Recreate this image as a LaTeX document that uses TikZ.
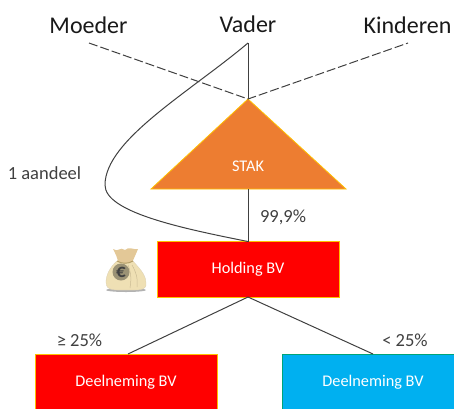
\documentclass[tikz,border=0pt]{standalone}
\usepackage{fontspec}
\setmainfont{Carlito}
\definecolor{orangefill}{HTML}{ED7D31}
\definecolor{edgeor}{HTML}{FFC000}
\definecolor{bluefill}{HTML}{00B0F0}
\definecolor{bag}{HTML}{EFE0B4}
\definecolor{bagdark}{HTML}{B59F68}
\definecolor{linegrey}{HTML}{404040}
\tikzset{
 x=1pt,y=-1pt,
 box/.style={draw=edgeor,line width=0.8pt,fill=red,text=white,font=\fontsize{16.3}{18}\selectfont,minimum width=182pt,minimum height=55.5pt,inner sep=0pt},
 head/.style={font=\fontsize{24}{26}\selectfont,text=black!90,inner sep=0pt},
 lab/.style={font=\fontsize{18.5}{20}\selectfont,text=linegrey,inner sep=0pt},
 conn/.style={draw=linegrey,line width=1pt},
 dashline/.style={draw=linegrey,line width=1pt,dash pattern=on 9pt off 3pt}
}
\begin{document}
\begin{tikzpicture}
\useasboundingbox (0,0) rectangle (454,408);
\begin{scope}
\clip (0,0) rectangle (454,408);
\node[box] (holding) at (248,269.5) {Holding BV};
\node[box,minimum height=56pt] (deelA) at (126,382) {Deelneming BV};
\node[box,minimum height=56pt,fill=bluefill,draw=green!60!black!50!bluefill] (deelB) at (373,382) {Deelneming BV};
\end{scope}
\coordinate (apex) at (248,99);
\coordinate (bl) at (151,189);
\coordinate (br) at (346,189);
\coordinate (basemid) at (248,189);
\coordinate (vaderend) at (248,43);
\coordinate (moederend) at (89,43);
\coordinate (kindend) at (408,43);
\coordinate (bend) at (105,185);
\coordinate (holdtop) at (248,241.5);
\coordinate (holdbot) at (248,297);
\coordinate (deelAtop) at (128,354);
\coordinate (deelBtop) at (373,354);
\fill[orangefill,draw=edgeor,line width=0.8pt,line join=miter] (apex) -- (br) -- (bl) -- cycle;
\node[text=white,font=\fontsize{16.3}{18}\selectfont,inner sep=0pt] (stak) at (248,166) {STAK};
\node[head] (moeder) at (88.5,25) {Moeder};
\node[head] (vader) at (248,24.5) {Vader};
\node[head] (kinderen) at (407.5,25) {Kinderen};
\node[lab] (aandeel) at (44.5,173) {1 aandeel};
\node[lab] (pct) at (283,217) {99,9\%};
\node[lab] (ge) at (79.5,340) {≥ 25\%};
\node[lab] (lt) at (405,340) {< 25\%};
\path[dashline] (moederend) -- (apex) -- (kindend);
\path[conn] (vaderend) -- (apex);
\path[conn] (basemid) -- (holdtop);
\path[conn] (vaderend) .. controls (190,92) and (105,140) .. (bend) .. controls (105,212) and (180,228) .. (holdtop);
\path[conn] (holdbot) -- (deelAtop);
\path[conn] (holdbot) -- (deelBtop);
% money bag
\fill[black!30] (126,290) ellipse (20pt and 2pt);
\fill[bag!75!brown] (113,249) .. controls (118,253) and (120,246) .. (125,250) .. controls (129,246) and (133,250) .. (138,249) .. controls (136,254) and (134,258) .. (132,263) -- (118,263) .. controls (118,258) and (115,253) .. (113,249) -- cycle;
\fill[bag,draw=bagdark!50,line width=0.3pt] (117,261) .. controls (110,267) and (106,275) .. (106,282) .. controls (106,291) and (114,290) .. (126,290) .. controls (138,290) and (147,291) .. (146,283) .. controls (146,274) and (138,267) .. (133,261) .. controls (128,264) and (122,264) .. (117,261) -- cycle;
\draw[bagdark,line width=1pt] (117,261) .. controls (122,264) and (128,264) .. (133,261);
\draw[bagdark!70,line width=0.5pt] (132,265) .. controls (136,272) and (138,278) .. (137,287);
\draw[bagdark!70,line width=0.5pt] (128,265) .. controls (130,270) and (132,276) .. (130,288);
\fill[black!35!bag] (121,272) circle (8.5pt);
\node[text=black!75,font=\fontsize{19}{19}\bfseries\selectfont,inner sep=0pt] (euro) at (121,272) {€};
\end{tikzpicture}
\end{document}
